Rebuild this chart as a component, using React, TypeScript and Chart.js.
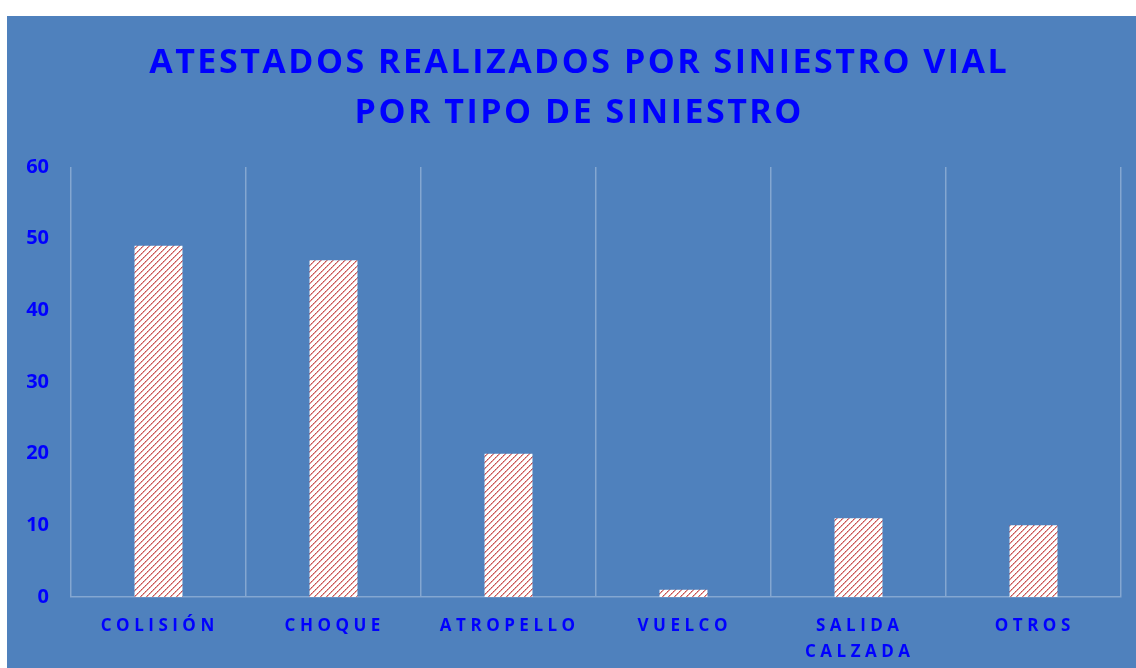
import React, { useEffect, useRef } from "react";
import { Chart, registerables } from "chart.js";

Chart.register(...registerables);

const categories: string[][] = [
  ["COLISIÓN"],
  ["CHOQUE"],
  ["ATROPELLO"],
  ["VUELCO"],
  ["SALIDA", "CALZADA"],
  ["OTROS"],
];
const values: number[] = [49, 47, 20, 1, 11, 10];
const yMin = 0;
const yMax = 60;
const yStep = 10;
const titleLines: string[] = [
  "ATESTADOS REALIZADOS POR SINIESTRO VIAL",
  "POR TIPO DE SINIESTRO",
];

const BLUE_TEXT = "#0000FF";
const BG = "#4F81BD";
const GRID = "rgba(255,255,255,0.3)";

function makePattern(): CanvasPattern | string {
  const c = document.createElement("canvas");
  c.width = 6;
  c.height = 6;
  const g = c.getContext("2d");
  if (!g) return "#ffffff";
  g.fillStyle = "#ffffff";
  g.fillRect(0, 0, 6, 6);
  for (let i = 0; i < 6; i++) {
    const y = 5 - i;
    g.fillStyle = i % 2 === 0 ? "#C0504D" : "#D9787A";
    g.fillRect(i, y, 1, 1);
    g.fillStyle = "#E6A3A3";
    g.fillRect((i + 1) % 6, y, 1, 1);
  }
  const p = g.createPattern(c, "repeat");
  return p || "#ffffff";
}

const textPlugin = {
  id: "customText",
  afterDraw(chart: any) {
    const ctx = chart.ctx as CanvasRenderingContext2D;
    ctx.save();
    ctx.fillStyle = BLUE_TEXT;
    ctx.textAlign = "center";
    ctx.textBaseline = "alphabetic";
    const tSp = 2.5;
    (ctx as any).letterSpacing = tSp + "px";
    ctx.font = 'bold 34px "Open Sans"';
    titleLines.forEach((t, i) => {
      ctx.fillText(t, 571 + tSp / 2, 57 + i * 50);
    });
    const xs = chart.scales.x;
    const lSp = 4.5;
    (ctx as any).letterSpacing = lSp + "px";
    ctx.font = 'bold 17px "Open Sans"';
    categories.forEach((lines, i) => {
      const x = xs.getPixelForValue(i);
      lines.forEach((l, j) => {
        ctx.fillText(l, x + lSp / 2 - 1, xs.top + 34 + j * 26);
      });
    });
    ctx.restore();
  },
};

export default function App() {
  const ref = useRef<HTMLCanvasElement | null>(null);
  useEffect(() => {
    if (!ref.current) return;
    const chart = new Chart(ref.current, {
      type: "bar",
      data: {
        labels: categories.map((c) => c.join(" ")),
        datasets: [
          {
            data: values,
            backgroundColor: makePattern() as any,
            borderWidth: 0,
            barPercentage: 0.274,
            categoryPercentage: 1,
          },
        ],
      },
      options: {
        responsive: false,
        animation: false,
        layout: { padding: { top: 151, right: 15, left: 0, bottom: 0 } },
        plugins: {
          legend: { display: false },
          title: { display: false },
          tooltip: { enabled: false },
        },
        scales: {
          x: {
            offset: true,
            grid: {
              display: true,
              offset: true,
              color: GRID,
              lineWidth: 1.5,
              drawTicks: false,
            },
            border: { display: true, color: GRID, width: 1.5 },
            ticks: { display: false },
            afterFit(scale: any) {
              scale.height = 71;
            },
          },
          y: {
            min: yMin,
            max: yMax,
            grid: { display: false, drawTicks: false },
            border: { display: false },
            ticks: {
              stepSize: yStep,
              color: BLUE_TEXT,
              padding: 22,
              font: { family: '"Open Sans"', size: 20, weight: "bold" },
            },
            afterFit(scale: any) {
              scale.width = 64;
            },
          },
        },
      },
      plugins: [textPlugin],
    });
    return () => chart.destroy();
  }, []);
  return (
    <div
      style={{
        position: "fixed",
        left: 7,
        top: 16,
        width: 1129,
        height: 652,
        background: BG,
      }}
    >
      <canvas ref={ref} width={1129} height={652} style={{ display: "block" }} />
    </div>
  );
}
